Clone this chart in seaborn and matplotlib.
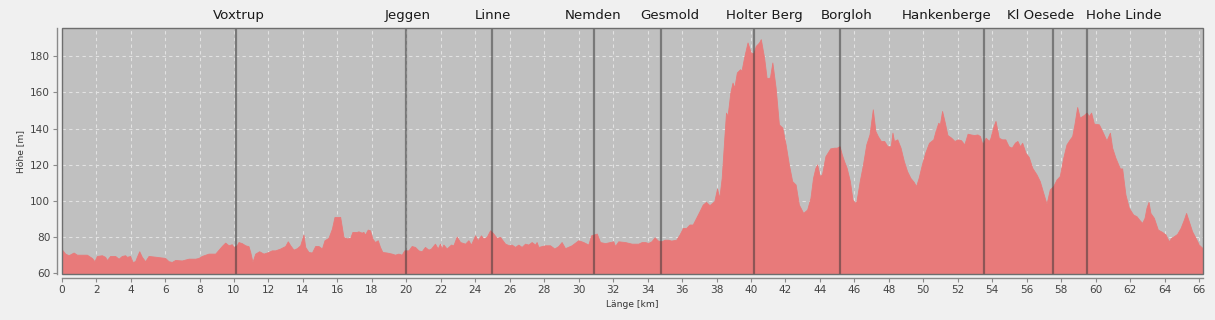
import matplotlib
matplotlib.use("Agg")
import matplotlib.pyplot as plt
import matplotlib.transforms as mtransforms
from matplotlib.patches import Rectangle
import seaborn as sns
import pandas as pd

# ---------------- data ----------------
distance_km = [
    0.00, 0.23, 0.43, 0.72, 0.91, 1.20, 1.49, 1.78, 1.93, 2.07, 2.36, 2.55, 2.65, 2.84, 3.13, 3.33,
    3.52, 3.71, 3.81, 4.00, 4.14, 4.29, 4.39, 4.53, 4.68, 4.87, 5.07, 5.45, 6.03, 6.23, 6.42, 6.62,
    7.00, 7.39, 7.78, 7.97, 8.16, 8.55, 8.94, 9.32, 9.52, 9.71, 9.90, 10.00, 10.19, 10.29, 10.48,
    10.68, 10.87, 10.97, 11.10, 11.26, 11.49, 11.74, 12.03, 12.22, 12.42, 12.71, 13.00, 13.15, 13.29,
    13.48, 13.68, 13.87, 14.06, 14.16, 14.35, 14.55, 14.74, 14.93, 15.13, 15.28, 15.51, 15.71, 15.86,
    16.00, 16.19, 16.38, 16.58, 16.77, 16.90, 17.15, 17.25, 17.44, 17.54, 17.63, 17.79, 17.92, 18.06,
    18.21, 18.37, 18.50, 18.64, 18.89, 19.18, 19.37, 19.57, 19.76, 19.91, 20.15, 20.34, 20.53, 20.73,
    20.92, 21.11, 21.31, 21.46, 21.69, 21.85, 21.98, 22.08, 22.18, 22.37, 22.62, 22.76, 22.95, 23.15,
    23.44, 23.63, 23.78, 24.02, 24.17, 24.36, 24.50, 24.69, 24.89, 25.08, 25.27, 25.47, 25.76, 25.99,
    26.14, 26.34, 26.53, 26.72, 26.92, 27.11, 27.30, 27.50, 27.59, 27.69, 28.08, 28.37, 28.62, 28.85,
    29.04, 29.24, 29.62, 30.01, 30.30, 30.59, 30.75, 31.08, 31.27, 31.56, 31.85, 32.04, 32.14, 32.33,
    32.72, 33.11, 33.49, 33.69, 33.88, 34.06, 34.25, 34.44, 34.63, 34.83, 35.02, 35.21, 35.40, 35.69,
    35.88, 36.08, 36.27, 36.46, 36.65, 36.85, 37.04, 37.23, 37.42, 37.62, 37.90, 38.06, 38.19, 38.33,
    38.48, 38.58, 38.67, 38.83, 38.96, 39.06, 39.21, 39.40, 39.48, 39.63, 39.83, 40.02, 40.17, 40.31,
    40.50, 40.60, 40.79, 40.94, 41.13, 41.27, 41.46, 41.65, 41.85, 42.04, 42.23, 42.42, 42.62, 42.81,
    43.06, 43.29, 43.48, 43.63, 43.77, 43.87, 44.02, 44.15, 44.35, 44.63, 44.86, 45.01, 45.17, 45.30,
    45.43, 45.58, 45.77, 45.92, 46.06, 46.15, 46.34, 46.53, 46.72, 46.91, 47.01, 47.10, 47.25, 47.39,
    47.57, 47.76, 47.95, 48.14, 48.24, 48.33, 48.52, 48.71, 48.90, 49.09, 49.28, 49.47, 49.61, 49.76,
    49.95, 50.14, 50.36, 50.61, 50.74, 50.90, 50.99, 51.12, 51.28, 51.43, 51.65, 51.84, 52.03, 52.22,
    52.41, 52.60, 52.79, 52.98, 53.17, 53.32, 53.46, 53.65, 53.84, 53.93, 54.08, 54.22, 54.41, 54.60,
    54.79, 54.98, 55.16, 55.35, 55.49, 55.64, 55.77, 55.96, 56.15, 56.35, 56.60, 56.79, 56.99, 57.18,
    57.37, 57.57, 57.76, 57.95, 58.15, 58.34, 58.53, 58.67, 58.80, 58.96, 59.11, 59.35, 59.50, 59.64,
    59.77, 59.93, 60.22, 60.41, 60.66, 60.86, 60.99, 61.18, 61.44, 61.57, 61.76, 61.96, 62.21, 62.40,
    62.60, 62.73, 62.87, 62.98, 63.10, 63.21, 63.41, 63.64, 63.89, 64.09, 64.28, 64.41, 64.57, 64.76,
    64.96, 65.15, 65.28, 65.44, 65.63, 65.83, 66.02, 66.25,
]
elevation_m = [
    73.4, 70.6, 69.7, 71.2, 70.0, 70.0, 70.0, 68.2, 66.4, 69.3, 69.7, 68.8, 67.0, 69.3, 69.3, 67.8,
    69.3, 69.7, 68.8, 69.3, 66.0, 66.4, 68.8, 71.9, 68.8, 66.4, 69.3, 68.9, 68.2, 66.4, 66.0, 67.1,
    66.8, 67.8, 67.8, 68.2, 69.3, 70.6, 70.6, 74.8, 76.7, 75.2, 75.8, 74.3, 75.2, 77.0, 76.4,
    75.2, 74.7, 71.5, 66.0, 70.6, 71.9, 70.6, 71.5, 72.4, 72.4, 73.4, 74.8, 77.4, 75.2,
    72.8, 73.6, 75.2, 81.1, 74.3, 71.5, 71.2, 74.8, 74.8, 73.4, 78.0, 79.3, 84.4, 90.9,
    90.9, 90.9, 79.8, 79.0, 79.3, 82.6, 82.6, 82.9, 82.2, 82.6, 81.1, 83.9, 83.5, 78.9,
    77.0, 78.0, 74.3, 71.5, 71.2, 70.6, 70.0, 70.6, 70.0, 72.4, 72.4, 74.8, 74.3, 72.4,
    71.9, 74.3, 72.8, 73.4, 76.1, 73.4, 76.1, 73.4, 75.6, 73.4, 75.6, 75.2, 80.0, 77.0,
    76.1, 78.0, 75.6, 80.7, 78.0, 80.7, 78.9, 79.8, 83.5, 81.7, 79.3, 79.8, 76.1, 75.2,
    75.6, 74.3, 75.6, 74.3, 76.1, 75.6, 77.0, 75.6, 77.0, 74.3, 75.2, 75.2, 73.4, 74.8,
    77.0, 73.6, 75.2, 78.0, 77.0, 75.6, 80.7, 81.7, 77.0, 76.4, 77.0, 77.4, 74.8, 77.4,
    77.0, 76.1, 76.1, 77.0, 77.0, 76.5, 77.4, 79.6, 77.8, 77.4, 78.3, 78.3, 77.8, 78.3,
    81.1, 84.8, 84.8, 86.7, 86.7, 90.4, 94.0, 97.7, 99.2, 97.4, 99.6, 106.6, 101.4, 112.5,
    134.7, 148.6, 146.7, 159.7, 165.2, 162.4, 170.8, 172.6, 171.7, 179.1, 187.4, 181.8, 181.3, 185.5,
    187.4, 189.2, 179.1, 167.6, 168.0, 176.3, 162.4, 142.1, 140.3, 131.0, 119.9, 110.7, 108.8, 97.7,
    93.1, 95.0, 101.4, 112.5, 118.1, 119.9, 113.5, 114.4, 124.5, 128.8, 129.2, 129.2, 130.0, 125.5,
    121.8, 118.1, 110.7, 100.5, 98.7, 99.6, 110.7, 120.0, 131.0, 136.6, 144.0, 150.4, 138.4, 135.6,
    132.9, 132.9, 130.0, 130.0, 137.5, 132.9, 133.8, 129.2, 121.8, 116.2, 112.5, 110.3, 107.9, 112.5,
    120.0, 126.4, 131.9, 133.8, 138.4, 143.0, 142.0, 149.5, 143.0, 136.2, 134.7, 132.9, 133.8, 133.3,
    131.0, 136.9, 136.5, 136.2, 136.5, 135.6, 131.0, 134.7, 132.9, 134.7, 140.3, 144.0, 134.7, 133.8,
    133.8, 130.0, 129.2, 132.0, 132.9, 130.0, 131.9, 126.4, 124.0, 118.1, 114.4, 110.7, 104.2, 98.1,
    106.1, 107.9, 111.6, 113.5, 123.6, 131.0, 133.8, 135.6, 142.1, 151.7, 145.8, 147.3, 148.6, 146.7,
    148.6, 142.5, 142.1, 138.4, 133.2, 137.5, 129.2, 123.6, 117.7, 117.7, 103.3, 95.9, 92.2, 91.3,
    88.9, 87.6, 90.4, 95.9, 99.2, 93.1, 90.4, 83.9, 82.6, 81.1, 77.4, 79.3, 80.2, 81.5,
    84.8, 89.4, 93.1, 88.5, 82.9, 79.3, 75.6, 73.5,
]

place_names = ["Voxtrup", "Jeggen", "Linne", "Nemden", "Gesmold", "Holter Berg",
               "Borgloh", "Hankenberge", "Kl Oesede", "Hohe Linde"]
place_km = [10.09, 19.97, 24.96, 30.90, 34.78, 40.16, 45.17, 53.50, 57.52, 59.50]

x_ticks = list(range(0, 67, 2))
y_ticks = [60, 80, 100, 120, 140, 160, 180]

# label layout offsets (km) so the names do not overlap
label_shift = [0.18, 0.13, 0.09, -0.05, 0.49, 0.60, 0.36, -2.12, -0.72, 2.15]

# ---------------- style ----------------
sns.set_theme(style="white")
plt.rcParams["font.family"] = ["DejaVu Sans"]

fig = plt.figure(figsize=(12.15, 3.2), dpi=100, facecolor="#f0f0f0")
W, H = 1215.0, 320.0
left, right, top, bottom = 61.7, 1203.3, 28.3, 274.0
ax = fig.add_axes([left / W, 1 - bottom / H, (right - left) / W, (bottom - top) / H])
ax.set_facecolor("#c0c0c0")

df = pd.DataFrame({"km": distance_km, "m": elevation_m})
fill_col = "#e87a7a"
ax.fill_between(df["km"], df["m"], 0, color=fill_col, lw=0, zorder=2)
sns.lineplot(data=df, x="km", y="m", ax=ax, color=fill_col, lw=0.6, zorder=3)

ax.set_xlim(0, 66.25)
ax.set_ylim(59.6, 195.5)
ax.set_xticks(x_ticks)
ax.set_yticks(y_ticks)

ax.grid(True, color="#e2e2e2", lw=0.8, ls=(0, (3, 3)), zorder=1)
ax.set_axisbelow(True)

for xk in place_km:
    ax.axvline(xk, color="#333333", lw=1.6, alpha=0.5, zorder=4)

trans = mtransforms.blended_transform_factory(ax.transData, fig.transFigure)
for name, xk, dx in zip(place_names, place_km, label_shift):
    ax.text(xk + dx, 1 - 19.0 / H, name, transform=trans, ha="center", va="baseline",
            fontsize=9.6, color="#1a1a1a", clip_on=False)

# offset axis lines like the original
for side in ["top", "right"]:
    ax.spines[side].set_visible(False)
for side in ["left", "bottom"]:
    ax.spines[side].set_position(("outward", 3.2))
    ax.spines[side].set_color("#8a8a8a")
    ax.spines[side].set_linewidth(1.0)

border = Rectangle((0, 0), 1, 1, transform=ax.transAxes, fill=False,
                   edgecolor="#6e6e6e", lw=1.0, zorder=6, clip_on=False)
ax.add_patch(border)

ax.tick_params(axis="both", which="major", direction="out", length=3, width=0.8,
               color="#8a8a8a", labelsize=7.6, labelcolor="#444444", pad=2,
               bottom=True, left=True)

ax.set_xlabel("Länge [km]", fontsize=6.6, color="#333333", labelpad=3)
ax.set_ylabel("Höhe [m]", fontsize=6.6, color="#333333", labelpad=4)

fig.savefig("out.png", dpi=100, facecolor=fig.get_facecolor())
